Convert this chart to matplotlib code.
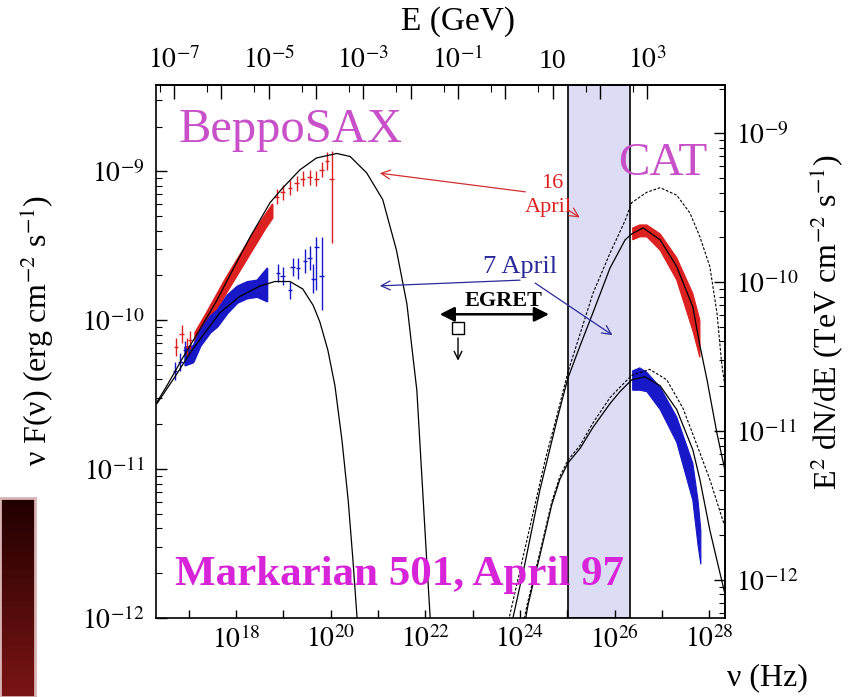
import numpy as np
import matplotlib
matplotlib.use("Agg")
import matplotlib.pyplot as plt
from matplotlib.ticker import LogLocator, FixedLocator, FuncFormatter, NullFormatter

plt.rcParams['font.family'] = ['Liberation Serif', 'DejaVu Serif']
plt.rcParams['mathtext.fontset'] = 'stix'

# all values are log10(nu / Hz) and log10(nu F_nu / erg cm-2 s-1)

# synchrotron model, 16 April
sync16_lognu = [16.33, 16.54, 16.88, 17.24, 17.59, 17.95, 18.30, 18.72, 18.99, 19.35, 19.70,
                20.13, 20.41, 20.76, 21.10, 21.39, 21.61, 21.74, 21.82, 21.93, 22.03, 22.14]
sync16_logf = [-10.55, -10.44, -10.25, -10.06, -9.87, -9.65, -9.44, -9.21, -9.11, -8.99, -8.91,
               -8.88, -8.90, -9.01, -9.19, -9.53, -9.89, -10.25, -10.47, -11.07, -11.62, -12.2]

# synchrotron model, 7 April
sync07_lognu = [16.33, 16.71, 17.03, 17.35, 17.66, 18.08, 18.51, 18.82, 19.14, 19.41, 19.63,
                19.77, 19.94, 20.09, 20.24, 20.37, 20.47, 20.58]
sync07_logf = [-10.56, -10.38, -10.22, -10.08, -9.95, -9.84, -9.77, -9.74, -9.74, -9.79, -9.90,
               -10.01, -10.20, -10.44, -10.81, -11.21, -11.61, -12.1]

# inverse Compton models (solid and dashed), 16 April
ic16_lognu = [23.68, 23.85, 24.10, 24.42, 24.78, 25.01, 25.27, 25.54, 25.90, 26.22, 26.36,
              26.60, 26.96, 27.31, 27.65, 27.80, 27.95, 28.16, 28.33, 28.54]
ic16_logf = [-12.21, -12.0, -11.64, -11.14, -10.67, -10.39, -10.17, -9.95, -9.65, -9.46, -9.42,
             -9.38, -9.46, -9.64, -9.91, -10.17, -10.40, -10.76, -11.01, -11.27]
ic16d_lognu = [23.58, 23.77, 24.10, 24.53, 24.78, 25.01, 25.54, 25.90, 26.22, 26.36, 26.68,
               26.96, 27.31, 27.59, 27.80, 28.01, 28.16, 28.26, 28.43]
ic16d_logf = [-12.25, -12.0, -11.54, -10.94, -10.64, -10.35, -9.82, -9.55, -9.33, -9.21, -9.14,
              -9.11, -9.16, -9.28, -9.44, -9.64, -9.95, -10.29, -10.67]

# inverse Compton models (solid and dashed), 7 April
ic07_lognu = [24.04, 24.17, 24.42, 24.67, 24.84, 25.01, 25.27, 25.54, 25.90, 26.11, 26.36,
              26.64, 26.96, 27.31, 27.65, 27.80, 28.01, 28.18, 28.33, 28.48]
ic07_logf = [-12.15, -11.91, -11.58, -11.24, -11.07, -10.96, -10.86, -10.72, -10.56, -10.48, -10.40,
             -10.38, -10.44, -10.60, -10.87, -11.07, -11.41, -11.64, -11.84, -11.99]
ic07d_lognu = [24.00, 24.15, 24.42, 24.67, 24.84, 25.01, 25.27, 25.54, 25.90, 26.11, 26.36,
               26.74, 27.10, 27.44, 27.74, 28.01, 28.28, 28.54]
ic07d_logf = [-12.15, -11.91, -11.56, -11.22, -11.05, -10.94, -10.84, -10.69, -10.52, -10.45, -10.37,
              -10.33, -10.40, -10.59, -10.84, -11.07, -11.34, -11.58]

# BeppoSAX dense spectra (band lower / upper edges)
sax16_band_lognu = [17.13, 17.35, 17.56, 17.77, 17.98, 18.19, 18.40, 18.61, 18.76]
sax16_band_lo = [-10.18, -10.06, -9.94, -9.82, -9.71, -9.60, -9.49, -9.38, -9.31]
sax16_band_hi = [-10.08, -9.96, -9.84, -9.72, -9.61, -9.50, -9.39, -9.29, -9.22]
sax07_band_lognu = [16.92, 17.09, 17.24, 17.45, 17.60, 17.81, 18.02, 18.23, 18.44, 18.65]
sax07_band_lo = [-10.30, -10.28, -10.17, -10.08, -10.04, -9.95, -9.88, -9.85, -9.84, -9.87]
sax07_band_hi = [-10.18, -10.17, -10.07, -9.97, -9.93, -9.83, -9.77, -9.74, -9.73, -9.65]

# BeppoSAX individual points with errors
sax16_lognu = [16.73, 16.85, 16.96, 17.03, 18.86, 18.99, 19.14, 19.28, 19.41, 19.56, 19.70,
               19.81, 19.92, 20.02]
sax16_logf = [-10.18, -10.09, -10.18, -10.13, -9.17, -9.14, -9.11, -9.08, -9.05, -9.04, -9.05,
              -8.99, -8.93, -9.05]
sax16_err_lo = [0.06, 0.06, 0.06, 0.06, 0.05, 0.05, 0.05, 0.05, 0.05, 0.05, 0.05, 0.05, 0.06, 0.43]
sax16_err_hi = [0.06, 0.06, 0.06, 0.06, 0.05, 0.05, 0.05, 0.05, 0.05, 0.05, 0.05, 0.05, 0.06, 0.19]

sax07_lognu = [16.71, 16.82, 16.92, 18.89, 18.99, 19.14, 19.20, 19.31, 19.46, 19.56, 19.63,
               19.70, 19.81]
sax07_logf = [-10.34, -10.28, -10.20, -9.68, -9.70, -9.80, -9.64, -9.65, -9.60, -9.58, -9.72,
              -9.51, -9.70]
sax07_err_lo = [0.06, 0.06, 0.06, 0.06, 0.06, 0.06, 0.06, 0.07, 0.08, 0.08, 0.10, 0.29, 0.23]
sax07_err_hi = [0.06, 0.06, 0.06, 0.06, 0.06, 0.06, 0.06, 0.07, 0.08, 0.08, 0.10, 0.07, 0.26]

# CAT spectra (butterfly bands)
cat16_lognu = [26.38, 26.53, 26.68, 26.96, 27.31, 27.65, 27.80]
cat16_lo = [-9.46, -9.44, -9.44, -9.53, -9.73, -10.07, -10.25]
cat16_hi = [-9.38, -9.36, -9.36, -9.42, -9.58, -9.82, -10.00]
cat07_lognu = [26.38, 26.53, 26.68, 26.96, 27.31, 27.65, 27.76, 27.82]
cat07_lo = [-10.47, -10.47, -10.48, -10.60, -10.82, -11.21, -11.51, -11.64]
cat07_hi = [-10.34, -10.32, -10.35, -10.45, -10.65, -10.96, -11.21, -11.41]

# EGRET upper limit and its energy range
egret_lognu = 22.69
egret_logf = -10.05
egret_range_lognu = [22.245, 24.67]
egret_range_logf = -9.96

# shaded band (log10 nu)
band_lognu = [25.01, 26.32]

HZ_PER_GEV = 4.9e23      # nu -> E for the top axis
FLUX_SCALE = 1.8         # erg -> TeV units on the right axis

RED = '#dd2020'
BLUE = '#1818c8'
MAGENTA = '#c850c8'


def p(a):
    return 10.0 ** np.asarray(a, dtype=float)


fig = plt.figure(figsize=(8.54, 6.97), dpi=100)
ax = fig.add_axes([156 / 854, 79 / 697, 569 / 854, 533 / 697])
ax.set_xscale('log')
ax.set_yscale('log')
ax.set_xlim(10 ** 16.31, 10 ** 28.33)
ax.set_ylim(1e-12, 10 ** -8.42)

ax.axvspan(p(band_lognu[0]), p(band_lognu[1]), facecolor='#dcdcf5', edgecolor='black',
           lw=1.2, zorder=0)

# model curves
ax.plot(p(sync16_lognu), p(sync16_logf), color='black', lw=0.9, zorder=3)
ax.plot(p(sync07_lognu), p(sync07_logf), color='black', lw=0.9, zorder=3)
ax.plot(p(ic16_lognu), p(ic16_logf), color='black', lw=0.9, zorder=3)
ax.plot(p(ic07_lognu), p(ic07_logf), color='black', lw=0.9, zorder=3)
ax.plot(p(ic16d_lognu), p(ic16d_logf), color='black', lw=0.8, ls=(0, (2.5, 1.5)), zorder=3)
ax.plot(p(ic07d_lognu), p(ic07d_logf), color='black', lw=0.8, ls=(0, (2.5, 1.5)), zorder=3)

# BeppoSAX data
ax.fill_between(p(sax16_band_lognu), p(sax16_band_lo), p(sax16_band_hi), color=RED, lw=1.5,
                edgecolor=RED, zorder=2)
ax.fill_between(p(sax07_band_lognu), p(sax07_band_lo), p(sax07_band_hi), color=BLUE, lw=1.5,
                edgecolor=BLUE, zorder=2)

for lognu, logf, elo, ehi, col in [(sax16_lognu, sax16_logf, sax16_err_lo, sax16_err_hi, RED),
                                   (sax07_lognu, sax07_logf, sax07_err_lo, sax07_err_hi, BLUE)]:
    x = p(lognu)
    y = p(logf)
    yerr = [y - p(np.array(logf) - np.array(elo)), p(np.array(logf) + np.array(ehi)) - y]
    xerr = [x - p(np.array(lognu) - 0.05), p(np.array(lognu) + 0.05) - x]
    ax.errorbar(x, y, xerr=xerr, yerr=yerr, fmt='none', ecolor=col, elinewidth=1.0,
                capsize=0, zorder=2)

# CAT butterflies
for lognu, lo, hi, col in [(cat16_lognu, cat16_lo, cat16_hi, RED),
                           (cat07_lognu, cat07_lo, cat07_hi, BLUE)]:
    xs = np.concatenate([p(lognu), p(lognu)[::-1]])
    ys = np.concatenate([p(hi), p(lo)[::-1]])
    ax.fill(xs, ys, color=col, lw=0.8, zorder=2)

# EGRET
ax.plot(p(egret_lognu), p(egret_logf), marker='s', ms=9, mfc='white', mec='black', mew=1.0,
        zorder=4)
ax.annotate('', xy=(p(egret_lognu), p(egret_logf - 0.24)),
            xytext=(p(egret_lognu), p(egret_logf - 0.05)),
            arrowprops=dict(arrowstyle='->', color='black', lw=1.0, mutation_scale=14), zorder=4)
ax.annotate('', xy=(p(egret_range_lognu[0]), p(egret_range_logf)),
            xytext=(p(egret_range_lognu[1]), p(egret_range_logf)),
            arrowprops=dict(arrowstyle='<|-|>', color='black', lw=1.8, mutation_scale=22),
            zorder=4)
ax.text(p(23.66), p(-9.87), 'EGRET', fontsize=16, fontweight='bold', ha='center', va='center',
        zorder=5)

# labels and arrows
ax.text(p(16.78), p(-8.72), 'BeppoSAX', fontsize=35, color=MAGENTA, ha='left', va='center',
        zorder=5)
ax.text(p(27.02), p(-8.95), 'CAT', fontsize=34, color=MAGENTA, ha='center', va='center',
        zorder=5)
ax.text(p(21.46), p(-11.71), 'Markarian 501, April 97', fontsize=31, fontweight='bold',
        color='#d824d8', ha='center', va='center', zorder=5)

ax.text(p(24.69), p(-9.08), '16', fontsize=16, color=RED, ha='center', va='center', zorder=5)
ax.text(p(24.59), p(-9.24), 'April', fontsize=16, color=RED, ha='center', va='center', zorder=5)
ax.text(p(24.00), p(-9.64), '7 April', fontsize=19, color='#2a2a9a', ha='center', va='center',
        zorder=5)

arrow_red = dict(arrowstyle='->', color='#d03030', lw=0.9, mutation_scale=16)
arrow_blue = dict(arrowstyle='->', color='#2a2a9a', lw=0.9, mutation_scale=16)
ax.annotate('', xy=(p(20.98), p(-9.01)), xytext=(p(24.17), p(-9.14)), arrowprops=arrow_red)
ax.annotate('', xy=(p(25.31), p(-9.32)), xytext=(p(24.97), p(-9.25)), arrowprops=arrow_red)
ax.annotate('', xy=(p(20.98), p(-9.77)), xytext=(p(24.06), p(-9.73)), arrowprops=arrow_blue)
ax.annotate('', xy=(p(26.00), p(-10.11)), xytext=(p(24.27), p(-9.74)), arrowprops=arrow_blue)

# axes styling
for s in ax.spines.values():
    s.set_linewidth(1.2)

ax.xaxis.set_major_locator(LogLocator(base=10, numticks=30))
ax.xaxis.set_minor_locator(FixedLocator([]))
ax.xaxis.set_major_formatter(FuncFormatter(
    lambda v, pos: r'$10^{%d}$' % round(np.log10(v)) if round(np.log10(v)) % 2 == 0 else ''))
ax.yaxis.set_major_locator(LogLocator(base=10, numticks=10))
ax.yaxis.set_minor_locator(LogLocator(base=10, subs=np.arange(2, 10), numticks=10))
ax.yaxis.set_minor_formatter(NullFormatter())
ax.yaxis.set_major_formatter(FuncFormatter(lambda v, pos: r'$10^{%d}$' % round(np.log10(v))))
ax.tick_params(axis='x', which='major', direction='in', length=6, width=1.0, labelsize=20, pad=6,
               top=False)
ax.tick_params(axis='y', which='major', direction='in', length=8, width=1.0, labelsize=20, pad=8,
               right=False)
ax.tick_params(axis='y', which='minor', direction='in', length=4, width=0.8, right=False)

# photon energy on top
top = ax.secondary_xaxis('top', functions=(lambda nu: nu / HZ_PER_GEV, lambda e: e * HZ_PER_GEV))
e_ticks = [10.0 ** k for k in range(-7, 4)]
e_labels = {-7: r'$10^{-7}$', -5: r'$10^{-5}$', -3: r'$10^{-3}$', -1: r'$10^{-1}$', 1: '10',
            3: r'$10^{3}$'}
top.xaxis.set_major_locator(FixedLocator(e_ticks))
top.xaxis.set_minor_locator(FixedLocator([5 * 10.0 ** k for k in range(-8, 3)]))
top.xaxis.set_major_formatter(FuncFormatter(lambda v, pos: e_labels.get(round(np.log10(v)), '')))
top.xaxis.set_minor_formatter(NullFormatter())
top.tick_params(which='major', direction='in', length=10, width=1.0, labelsize=20, pad=8)
top.tick_params(which='minor', direction='in', length=5, width=0.8)
top.spines['top'].set_linewidth(1.2)

# flux in TeV units on the right
right = ax.secondary_yaxis('right', functions=(lambda f: f / FLUX_SCALE, lambda f: f * FLUX_SCALE))
right.yaxis.set_major_locator(LogLocator(base=10, numticks=10))
right.yaxis.set_minor_locator(LogLocator(base=10, subs=np.arange(2, 10), numticks=10))
right.yaxis.set_minor_formatter(NullFormatter())
right.yaxis.set_major_formatter(FuncFormatter(lambda v, pos: r'$10^{%d}$' % round(np.log10(v))))
right.tick_params(which='major', direction='in', length=8, width=1.0, labelsize=20, pad=8)
right.tick_params(which='minor', direction='in', length=4, width=0.8)
right.spines['right'].set_linewidth(1.2)

fig.text(37 / 854, 1 - 330 / 697, r'ν F(ν) (erg cm$^{-2}$ s$^{-1}$)', rotation=90, fontsize=23,
         ha='center', va='center')
fig.text(826 / 854, 1 - 322 / 697, r'E$^{2}$ dN/dE (TeV cm$^{-2}$ s$^{-1}$)', rotation=90,
         fontsize=23, ha='center', va='center')
fig.text(458 / 854, 1 - 22 / 697, 'E (GeV)', fontsize=24, ha='center', va='center')
fig.text(808 / 854, 1 - 678 / 697, 'ν (Hz)', fontsize=23, ha='right', va='center')

# dark panel in the lower left corner
corner = fig.add_axes([0, 0, 35 / 854, 199 / 697])
grad = np.linspace(0, 1, 64)[:, None] * np.ones((1, 8))
corner.imshow(grad, cmap=matplotlib.colors.LinearSegmentedColormap.from_list(
    'm', ['#220000', '#7a1414']), aspect='auto', extent=[0, 1, 0, 1])
corner.set_xticks([])
corner.set_yticks([])
for s in corner.spines.values():
    s.set_color('#d8b4b4')
    s.set_linewidth(2)

fig.savefig('out.png', dpi=100, facecolor='white')
